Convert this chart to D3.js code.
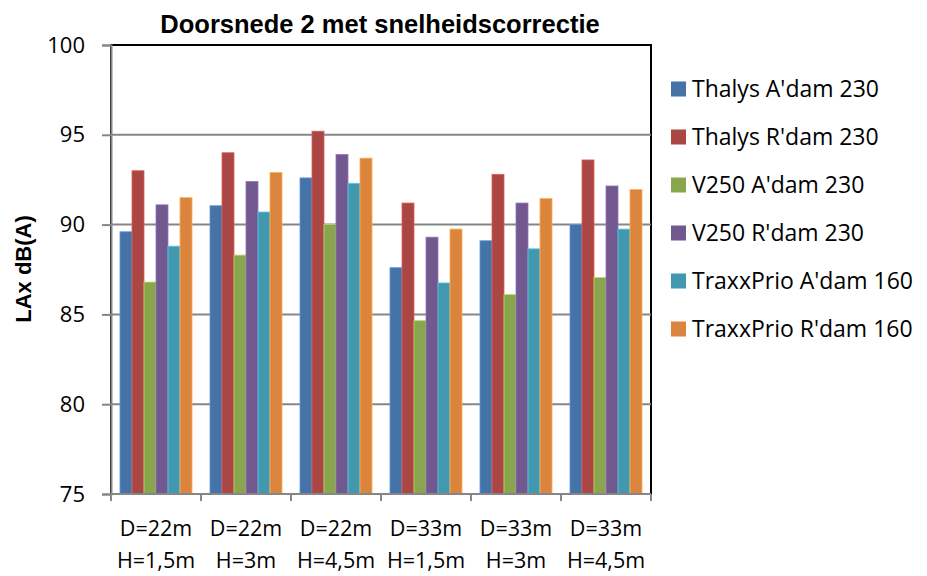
<!DOCTYPE html>
<html>
<head>
<meta charset="utf-8">
<script src="https://cdn.jsdelivr.net/npm/d3@7"></script>
<style>
  body { margin: 0; background: #fff; }
  svg { display: block; }
</style>
</head>
<body>
<svg id="s"></svg>
<script>
// categories (two-line labels)
var catTop = ['D=22m', 'D=22m', 'D=22m', 'D=33m', 'D=33m', 'D=33m'];
var catBottom = ['H=1,5m', 'H=3m', 'H=4,5m', 'H=1,5m', 'H=3m', 'H=4,5m'];

var seriesNames = ["Thalys A'dam 230", "Thalys R'dam 230", "V250 A'dam 230",
  "V250 R'dam 230", "TraxxPrio A'dam 160", "TraxxPrio R'dam 160"];

var thalysA = [89.6, 91.05, 92.6, 87.6, 89.1, 90.0];
var thalysR = [93.0, 94.0, 95.2, 91.2, 92.8, 93.6];
var v250A = [86.8, 88.3, 90.0, 84.65, 86.1, 87.05];
var v250R = [91.1, 92.4, 93.9, 89.3, 91.2, 92.15];
var traxxA = [88.8, 90.7, 92.3, 86.75, 88.65, 89.75];
var traxxR = [91.5, 92.9, 93.7, 89.75, 91.45, 91.95];

var yTicks = [75, 80, 85, 90, 95, 100];

var seriesValues = [thalysA, thalysR, v250A, v250R, traxxA, traxxR];
var colors = ['#4572A7', '#AA4643', '#89A54E', '#71588F', '#4198AF', '#DB843D'];

var W = 927, H = 576;
var pl = 111, pr = 651, pt = 45, pb = 494;

var svg = d3.select('#s').attr('width', W).attr('height', H);

var x0 = d3.scaleBand().domain(d3.range(catTop.length)).range([pl, pr]).paddingInner(0.2).paddingOuter(0.1);
var x1 = d3.scaleBand().domain(d3.range(seriesNames.length)).range([0, x0.bandwidth()]);
var y = d3.scaleLinear().domain([75, 100]).range([pb, pt]);

// plot frame
svg.append('rect')
  .attr('x', pl).attr('y', pt)
  .attr('width', pr - pl).attr('height', pb - pt)
  .attr('fill', 'none').attr('stroke', '#000').attr('stroke-width', 2);

// gridlines
svg.selectAll('line.grid')
  .data(yTicks.filter(function(d){ return d > 75 && d < 100; }))
  .enter().append('line')
  .attr('class', 'grid')
  .attr('x1', pl).attr('x2', pr)
  .attr('y1', function(d){ return y(d); }).attr('y2', function(d){ return y(d); })
  .attr('stroke', '#868686').attr('stroke-width', 2);

// bars
var groups = svg.selectAll('g.grp')
  .data(catTop.map(function(c, i){ return i; }))
  .enter().append('g')
  .attr('transform', function(i){ return 'translate(' + x0(i) + ',0)'; });

groups.selectAll('rect')
  .data(function(i){ return seriesValues.map(function(s, k){ return {k: k, v: s[i]}; }); })
  .enter().append('rect')
  .attr('x', function(d){ return x1(d.k); })
  .attr('width', x1.bandwidth())
  .attr('y', function(d){ return y(d.v); })
  .attr('height', function(d){ return y(75) - y(d.v); })
  .attr('fill', function(d){ return colors[d.k]; })
  .attr('stroke', function(d){ return d3.color(colors[d.k]).brighter(0.8); })
  .attr('stroke-width', 0.8);

// y axis
var yAxis = d3.axisLeft(y).tickValues(yTicks).tickSize(9).tickPadding(17);
var ga = svg.append('g').attr('transform', 'translate(' + pl + ',0)').call(yAxis);
ga.select('.domain').attr('stroke', '#868686').attr('stroke-width', 2);
ga.selectAll('.tick line').attr('stroke', '#868686').attr('stroke-width', 2);
ga.selectAll('.tick text')
  .attr('font-family', 'Open Sans, sans-serif')
  .attr('font-size', 22).attr('fill', '#000');

// x axis line and ticks at category boundaries
svg.append('line')
  .attr('x1', pl).attr('x2', pr)
  .attr('y1', pb).attr('y2', pb)
  .attr('stroke', '#868686').attr('stroke-width', 2);
svg.selectAll('line.xtick')
  .data(d3.range(catTop.length + 1))
  .enter().append('line')
  .attr('x1', function(i){ return pl + i * (pr - pl) / catTop.length; })
  .attr('x2', function(i){ return pl + i * (pr - pl) / catTop.length; })
  .attr('y1', pb).attr('y2', pb + 7)
  .attr('stroke', '#868686').attr('stroke-width', 2);

var xl = svg.selectAll('text.xl')
  .data(catTop.map(function(c, i){ return i; }))
  .enter().append('text')
  .attr('text-anchor', 'middle')
  .attr('font-family', 'Open Sans, sans-serif')
  .attr('font-size', 21.5)
  .attr('fill', '#000');
xl.append('tspan')
  .attr('x', function(i){ return x0(i) + x0.bandwidth() / 2; })
  .attr('y', 536)
  .text(function(i){ return catTop[i]; });
xl.append('tspan')
  .attr('x', function(i){ return x0(i) + x0.bandwidth() / 2; })
  .attr('y', 568)
  .text(function(i){ return catBottom[i]; });

// title
svg.append('text')
  .attr('x', 380).attr('y', 33)
  .attr('text-anchor', 'middle')
  .attr('font-family', 'Liberation Sans, Arial, sans-serif')
  .attr('font-weight', 'bold').attr('font-size', 25.5)
  .text('Doorsnede 2 met snelheidscorrectie');

// y axis title
svg.append('text')
  .attr('transform', 'translate(31,269) rotate(-90)')
  .attr('text-anchor', 'middle')
  .attr('font-family', 'Liberation Sans, Arial, sans-serif')
  .attr('font-weight', 'bold').attr('font-size', 22)
  .text('LAx dB(A)');

// legend
var lg = svg.selectAll('g.lg')
  .data(seriesNames)
  .enter().append('g')
  .attr('transform', function(d, i){ return 'translate(671,' + (89 + i * 48) + ')'; });
lg.append('rect')
  .attr('x', 0).attr('y', -7.5).attr('width', 15).attr('height', 15)
  .attr('fill', function(d, i){ return colors[i]; });
lg.append('text')
  .attr('x', 21).attr('y', 8)
  .attr('font-family', 'Open Sans, sans-serif')
  .attr('font-size', 23)
  .attr('fill', '#000')
  .text(function(d){ return d; });
</script>
</body>
</html>
